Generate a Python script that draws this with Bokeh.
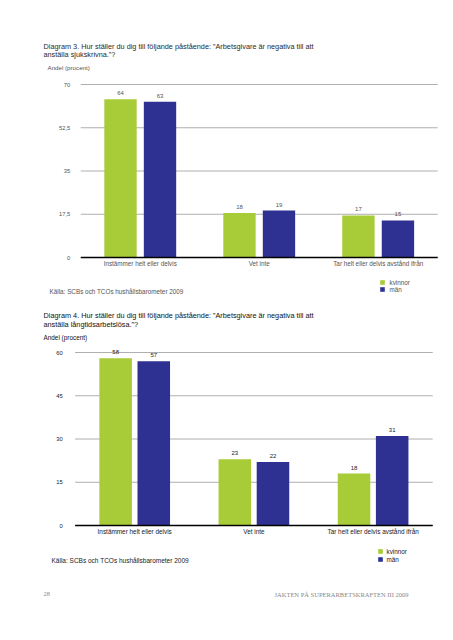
from bokeh.plotting import figure
from bokeh.models import ColumnDataSource, Range1d, Label
from bokeh.transform import dodge
from bokeh.core.properties import value
from bokeh.embed import file_html
from bokeh.resources import INLINE

categories = ["Instämmer helt eller delvis", "Vet inte", "Tar helt eller delvis avstånd ifrån"]
series_names = ["kvinnor", "män"]

d3_kvinnor = [64, 18, 17]
d3_man = [63, 19, 15]
d3_ticks = [0, 17.5, 35, 52.5, 70]
d3_tick_labels = ["0", "17,5", "35", "52,5", "70"]

d4_kvinnor = [58, 23, 18]
d4_man = [57, 22, 31]
d4_ticks = [0, 15, 30, 45, 60]
d4_tick_labels = ["0", "15", "30", "45", "60"]

d3_title = ["Diagram 3. Hur ställer du dig till följande påstående: ”Arbetsgivare är negativa till att",
            "anställa sjukskrivna.”?"]
d4_title = ["Diagram 4. Hur ställer du dig till följande påstående: ”Arbetsgivare är negativa till att",
            "anställa långtidsarbetslösa.”?"]
y_label = "Andel (procent)"
source_text = "Källa: SCBs och TCOs hushållsbarometer 2009"
page_no = "28"
journal = "JAKTEN PÅ SUPERARBETSKRAFTEN III 2009"

GREEN = "#a8cb38"
BLUE = "#2e3191"
COLORS = [GREEN, BLUE]
FONT = "Liberation Sans"
W, H = 453, 640


def page_range(v_a, p_a, v_b, p_b, p_start, p_end):
    """Range whose ends fall on page pixels p_start/p_end, given two anchor values."""
    k = (v_b - v_a) / (p_b - p_a)
    return Range1d(v_a + (p_start - p_a) * k, v_a + (p_end - p_a) * k)


p = figure(width=W, height=H, x_range=Range1d(0, W), y_range=Range1d(H, 0),
           output_backend="svg", toolbar_location=None,
           x_axis_location=None, y_axis_location=None,
           min_border=0, min_border_left=0, min_border_right=0,
           min_border_top=0, min_border_bottom=0)
p.outline_line_color = None
p.grid.visible = False


def add_text(text, x, y, size, color, font=FONT):
    p.add_layout(Label(x=x, y=y, text=text, text_font=font, text_font_size=size,
                       text_color=color, text_baseline="middle", text_align="left"))


def add_legend(x, ys, tx, size, color):
    p.scatter(x=[x, x], y=ys, marker="square", size=4.6, fill_color=COLORS, line_color=None)
    for name, y in zip(series_names, ys):
        add_text(name, tx, y, size, color)


def chart(name, kv, mn, ticks, tick_labels, top_val, x_anchor, y_anchor,
          bar_w, off, text_col, cat_size, standoff):
    xr, yr = name + "x", name + "y"
    # group centres i=0 and i=2 on page pixels x_anchor; value 0 / top_val at y_anchor
    p.extra_x_ranges[xr] = page_range(0, x_anchor[0], len(categories) - 1, x_anchor[1], 0, W)
    p.extra_y_ranges[yr] = page_range(0, y_anchor[0], top_val, y_anchor[1], H, 0)
    pos = list(range(len(categories)))
    left, right = pos[0] - 0.5, pos[-1] + 0.5
    src = ColumnDataSource(dict(pos=pos, cat=categories, kv=kv, mn=mn,
                                kvs=[str(v) for v in kv], mns=[str(v) for v in mn]))
    tsrc = ColumnDataSource(dict(t=ticks, lab=tick_labels,
                                 x0=[left] * len(ticks), x1=[right] * len(ticks)))
    kw = dict(x_range_name=xr, y_range_name=yr)
    # grid lines at ticks
    p.segment(x0="x0", x1="x1", y0="t", y1="t", source=tsrc, line_color="#9a9a9a",
              line_width=0.8, **kw)
    # tick labels
    p.text(x="x0", y="t", text="lab", source=tsrc, x_offset=-standoff, text_align="right",
           text_baseline="middle", text_font=value(FONT), text_font_size="5.8px",
           text_color=text_col, **kw)
    # bars + value labels
    for col, o, c, lab in (("kv", -off, GREEN, "kvs"), ("mn", off, BLUE, "mns")):
        p.vbar(x=dodge("pos", o), top=col, bottom=0, width=bar_w, source=src,
               fill_color=c, line_color=None, **kw)
        p.text(x=dodge("pos", o), y=col, text=lab, source=src,
               text_align="center", text_baseline="middle", y_offset=-6,
               text_font=value(FONT), text_font_size="6px", text_color=text_col, **kw)
    # baseline (x axis line)
    p.segment(x0=[left], x1=[right], y0=[0], y1=[0], line_color="black", line_width=1.5, **kw)
    # category labels
    p.text(x="pos", y=0, text="cat", source=src, y_offset=6.3, text_align="center",
           text_baseline="middle", text_font=value(FONT), text_font_size=cat_size,
           text_color=text_col, **kw)


# ---------------- Diagram 3 ----------------
add_text(d3_title[0], 43, 45.5, "7.3px", "#2a2a2a")
add_text(d3_title[1], 43, 54, "7.3px", "#2a2a2a")
add_text(y_label, 47, 67.3, "6.2px", "#555555")
chart("c1", d3_kvinnor, d3_man, d3_ticks, d3_tick_labels, 70,
      x_anchor=(139.75, 377.7), y_anchor=(257, 84), bar_w=0.272, off=0.166,
      text_col="#555555", cat_size="6.3px", standoff=10.5)
add_legend(382, [282, 289], 389, "6.3px", "#555555")
add_text(source_text, 49, 291, "6.35px", "#555555")

# ---------------- Diagram 4 ----------------
add_text(d4_title[0], 43, 315.3, "7.3px", "#111111")
add_text(d4_title[1], 43, 323.7, "7.3px", "#111111")
add_text(y_label, 43, 337, "6.4px", "#111111")
chart("c2", d4_kvinnor, d4_man, d4_ticks, d4_tick_labels, 60,
      x_anchor=(134.2, 372.6), y_anchor=(525, 352), bar_w=0.273, off=0.16,
      text_col="#222222", cat_size="6.4px", standoff=12.5)
add_legend(380, [551, 559], 386, "6.3px", "#222222")
add_text(source_text, 51, 560, "6.5px", "#222222")

# ---------------- page footer ----------------
add_text(page_no, 43, 593.5, "6.5px", "#888888", font="Liberation Serif")
add_text(journal, 274, 593.5, "6.5px", "#888888", font="Liberation Serif")

open("out.html", "w").write(file_html(p, INLINE))
